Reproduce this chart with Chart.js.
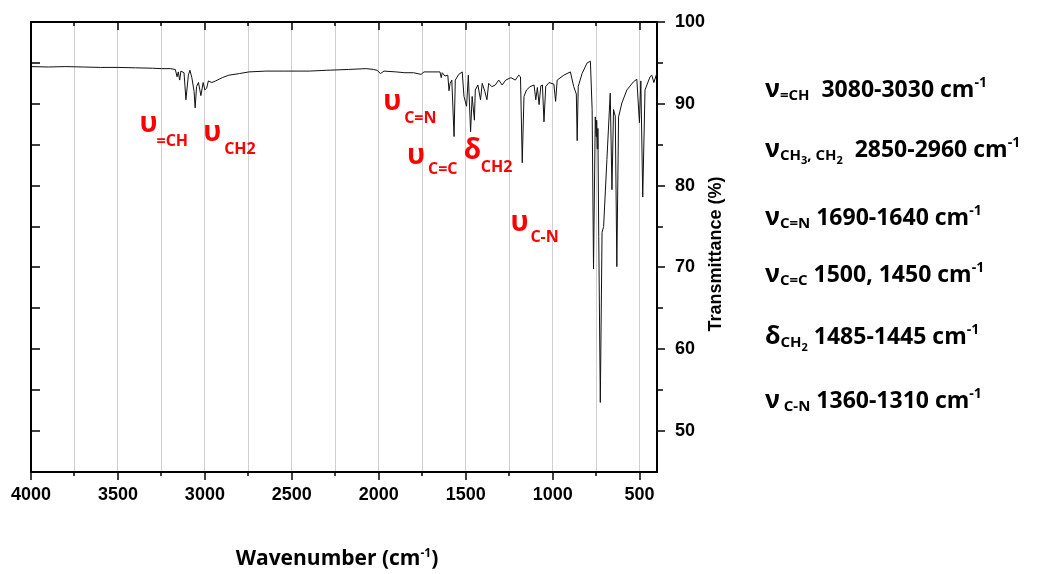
<!DOCTYPE html>
<html><head><meta charset="utf-8">
<script src="https://cdn.jsdelivr.net/npm/chart.js@4"></script>
<style>html,body{margin:0;padding:0;background:#fff;}#wrap{width:1063px;height:574px;position:relative;}</style>
</head><body><div id="wrap"><canvas id="c" width="1063" height="574"></canvas></div>
<script>
// ---------------- data ----------------
const wavenumber = [
  4000, 3900, 3800, 3700, 3600, 3500, 3400, 3300, 3250, 3200,
  3170, 3160, 3153, 3145, 3138, 3120, 3109, 3095, 3086, 3075,
  3062, 3056, 3048, 3037, 3030, 3023, 3010, 3000, 2990, 2980,
  2960, 2938, 2900, 2862, 2800, 2747, 2650, 2550, 2400, 2300,
  2175, 2072, 2030, 2010, 1990, 1970, 1900, 1850, 1800, 1757,
  1740, 1700, 1660, 1648, 1641, 1635, 1620, 1603, 1596, 1590,
  1580, 1567, 1560, 1540, 1520, 1510, 1495, 1485, 1472, 1463,
  1450, 1445, 1430, 1415, 1405, 1390, 1378, 1368, 1350, 1330,
  1310, 1290, 1270, 1240, 1215, 1195, 1185, 1175, 1165, 1150,
  1130, 1107, 1097, 1088, 1078, 1068, 1059, 1050, 1040, 1021,
  993, 983, 974, 936, 898, 879, 864, 859, 853, 831,
  802, 783, 773, 765, 755, 750, 747, 744, 740, 735,
  726, 716, 707, 688, 669, 659, 650, 640, 631, 621,
  602, 573, 535, 516, 501, 493, 482, 469, 440, 430,
  418, 400
];
const transmittance = [
  94.55, 94.5, 94.55, 94.5, 94.45, 94.45, 94.4, 94.35, 94.3, 94.3,
  94.2, 93.3, 93.9, 92.9, 94.0, 93.8, 90.5, 93.5, 94.1, 93.2,
  91.5, 89.5, 92.1, 92.6, 91.8, 91.0, 92.6, 91.7, 91.9, 92.8,
  92.6, 92.8, 93.2, 93.5, 93.7, 93.9, 94.0, 94.0, 94.0, 94.1,
  94.2, 94.3, 94.2, 94.1, 93.7, 94.0, 93.9, 93.8, 93.8, 93.6,
  93.9, 93.9, 93.9, 93.9, 93.2, 93.8, 93.4, 93.5, 91.6, 92.5,
  92.9, 86.0, 92.9, 93.6, 93.9, 90.9, 89.7, 93.5, 86.6, 90.9,
  88.0, 91.7, 92.3, 90.5, 92.5, 91.5, 90.5, 92.5, 92.1, 92.3,
  92.9, 92.3, 92.9, 93.2, 92.9, 93.5, 93.3, 82.8, 90.9, 91.7,
  92.1, 92.3, 90.5, 92.0, 89.9, 92.2, 92.3, 87.8, 92.1, 92.6,
  92.4, 90.3, 92.9, 93.5, 93.9, 92.1, 91.2, 85.5, 92.1, 93.7,
  95.0, 95.2, 89.3, 69.8, 88.4, 86.0, 88.0, 84.5, 87.0, 73.8,
  53.5, 74.3, 75.0, 83.2, 91.3, 79.5, 89.3, 88.5, 70.1, 88.4,
  90.1, 91.7, 92.7, 93.0, 87.7, 92.8, 78.6, 91.7, 93.3, 93.5,
  92.6, 93.8
];
const xTicks = [4000, 3750, 3500, 3250, 3000, 2750, 2500, 2250, 2000, 1750, 1500, 1250, 1000, 750, 500];
const xTickLabels = [4000, 3500, 3000, 2500, 2000, 1500, 1000, 500];
const yTicks = [50, 55, 60, 65, 70, 75, 80, 85, 90, 95, 100];
const yTickLabels = [50, 60, 70, 80, 90, 100];
const xTitleParts = [['Wavenumber (cm', 'txt'], ['-1', 'sup'], [')', 'txt']];
const yTitle = 'Transmittance (%)';
const bandSymbols = ['υ', 'υ', 'υ', 'υ', 'δ', 'υ'];
const bandSubscripts = ['=CH', 'CH2', 'C=N', 'C=C', 'CH2', 'C-N'];
const assignmentRows = [
  [['ν', 'sym'], ['=CH', 'sub'], ['  3080-3030 cm', 'txt'], ['-1', 'sup']],
  [['ν', 'sym'], ['CH', 'sub'], ['3', 'subsub'], [', CH', 'sub'], ['2', 'subsub'], ['  2850-2960 cm', 'txt'], ['-1', 'sup']],
  [['ν', 'sym'], ['C=N', 'sub'], [' 1690-1640 cm', 'txt'], ['-1', 'sup']],
  [['ν', 'sym'], ['C=C', 'sub'], [' 1500, 1450 cm', 'txt'], ['-1', 'sup']],
  [['δ', 'sym'], ['CH', 'sub'], ['2', 'subsub'], [' 1485-1445 cm', 'txt'], ['-1', 'sup']],
  [['ν', 'sym'], [' C-N', 'sub'], [' 1360-1310 cm', 'txt'], ['-1', 'sup']]
];

// ---------------- layout (positions / styles) ----------------
const bandLayout = [ // anchor in data coords, sub offset in px
  {wn: 3376, t: 86.5, dx: 17, dy: 14},
  {wn: 3010, t: 85.4, dx: 21, dy: 13},
  {wn: 1975, t: 89.3, dx: 21, dy: 13},
  {wn: 1838, t: 82.6, dx: 21, dy: 10},
  {wn: 1511, t: 83.2, dx: 17, dy: 13},
  {wn: 1243, t: 74.4, dx: 20, dy: 11}
];
const rowX = 765;
const rowBaselines = [97, 157, 225, 282, 344, 408];
const FONT = '"Open Sans", "DejaVu Sans", sans-serif';
const rowStyles = {
  sym: {font: 'bold 25px ' + FONT, dy: 0},
  sub: {font: 'bold 15px ' + FONT, dy: 3},
  subsub: {font: 'bold 11px ' + FONT, dy: 7},
  txt: {font: 'bold 23px ' + FONT, dy: 0},
  sup: {font: 'bold 14px ' + FONT, dy: -10}
};
const titleStyles = {
  txt: {font: 'bold 21px ' + FONT, dy: 0},
  sup: {font: 'bold 12px ' + FONT, dy: -8}
};

function drawParts(ctx, parts, styles, x, y, align) {
  let total = 0;
  for (const [t, k] of parts) { ctx.font = styles[k].font; total += ctx.measureText(t).width; }
  let cx = align === 'center' ? x - total / 2 : x;
  ctx.textBaseline = 'alphabetic';
  ctx.textAlign = 'left';
  for (const [t, k] of parts) {
    ctx.font = styles[k].font;
    ctx.fillText(t, cx, y + styles[k].dy);
    cx += ctx.measureText(t).width;
  }
}

const framePlugin = {
  id: 'frame',
  afterDraw(chart) {
    const {ctx, chartArea: a, scales: {x, y}} = chart;
    ctx.save();
    ctx.strokeStyle = '#000';
    ctx.lineWidth = 2;
    ctx.beginPath();
    ctx.moveTo(a.left, a.bottom + 1);
    ctx.lineTo(a.left, a.top);
    ctx.lineTo(a.right + 1, a.top);
    ctx.stroke();
    ctx.lineWidth = 1.5;
    const seg = (x1, y1, x2, y2) => { ctx.beginPath(); ctx.moveTo(x1, y1); ctx.lineTo(x2, y2); ctx.stroke(); };
    xTicks.forEach(v => {
      const px = Math.round(x.getPixelForValue(v));
      const L = xTickLabels.includes(v) ? 8 : 4;
      seg(px, a.top, px, a.top + L);
      seg(px, a.bottom, px, a.bottom + L);
    });
    yTicks.forEach(v => {
      const py = Math.round(y.getPixelForValue(v));
      const L = yTickLabels.includes(v) ? 8 : 6;
      seg(a.left, py, a.left + 9, py);
      seg(a.right, py, a.right + L, py);
    });
    // red band labels
    ctx.fillStyle = '#ff0000';
    ctx.textAlign = 'left';
    ctx.textBaseline = 'alphabetic';
    bandLayout.forEach((b, i) => {
      const px = x.getPixelForValue(b.wn), py = y.getPixelForValue(b.t);
      ctx.font = 'bold 28px ' + FONT;
      ctx.fillText(bandSymbols[i], px, py);
      ctx.font = 'bold 16px ' + FONT;
      ctx.fillText(bandSubscripts[i], px + b.dx, py + b.dy);
    });
    // assignments on the right
    ctx.fillStyle = '#000';
    assignmentRows.forEach((row, i) => drawParts(ctx, row, rowStyles, rowX, rowBaselines[i], 'left'));
    // axis titles
    drawParts(ctx, xTitleParts, titleStyles, 337, 565, 'center');
    ctx.save();
    ctx.translate(716, 254);
    ctx.rotate(-Math.PI / 2);
    ctx.font = 'bold 18px "Liberation Sans", Arial, sans-serif';
    ctx.textAlign = 'center';
    ctx.textBaseline = 'middle';
    ctx.fillText(yTitle, 0, 0);
    ctx.restore();
    ctx.restore();
  }
};

function build() {
  new Chart(document.getElementById('c'), {
    type: 'line',
    data: {datasets: [{
      data: wavenumber.map((w, i) => ({x: w, y: transmittance[i]})),
      borderColor: '#111', borderWidth: 1, pointRadius: 0, tension: 0, fill: false
    }]},
    options: {
      responsive: false, animation: false, devicePixelRatio: 1,
      layout: {padding: {left: 31, top: 22, right: 0, bottom: 0}},
      plugins: {legend: {display: false}, tooltip: {enabled: false}},
      scales: {
        x: {
          type: 'linear', reverse: true, min: 400, max: 4000,
          afterBuildTicks: s => { s.ticks = xTicks.map(v => ({value: v})); },
          afterFit: s => { s.height = 102; s.paddingLeft = 0; s.paddingRight = 0; },
          ticks: {autoSkip: false, maxRotation: 0, padding: 12, color: '#000',
            font: {family: '"Liberation Sans", Arial, sans-serif', size: 18, weight: 'bold'},
            callback: v => xTickLabels.includes(v) ? String(v) : ''},
          grid: {color: '#cfcfcf', lineWidth: 1, drawTicks: false},
          border: {display: true, color: '#000', width: 2}
        },
        y: {
          type: 'linear', position: 'right', min: 45, max: 100,
          afterBuildTicks: s => { s.ticks = yTicks.map(v => ({value: v})); },
          afterFit: s => { s.width = 406; s.paddingTop = 0; s.paddingBottom = 0; },
          ticks: {autoSkip: false, padding: 18, color: '#000',
            font: {family: '"Liberation Sans", Arial, sans-serif', size: 18, weight: 'bold'},
            callback: v => yTickLabels.includes(v) ? String(v) : ''},
          grid: {display: false, drawTicks: false},
          border: {display: true, color: '#000', width: 2}
        }
      }
    },
    plugins: [framePlugin]
  });
}
const fontLoads = ['bold 20px "Open Sans"', 'bold 18px "Liberation Sans"'].map(f => document.fonts.load(f, 'υνδ0').catch(() => null));
Promise.all(fontLoads).then(build, build);
</script></body></html>
